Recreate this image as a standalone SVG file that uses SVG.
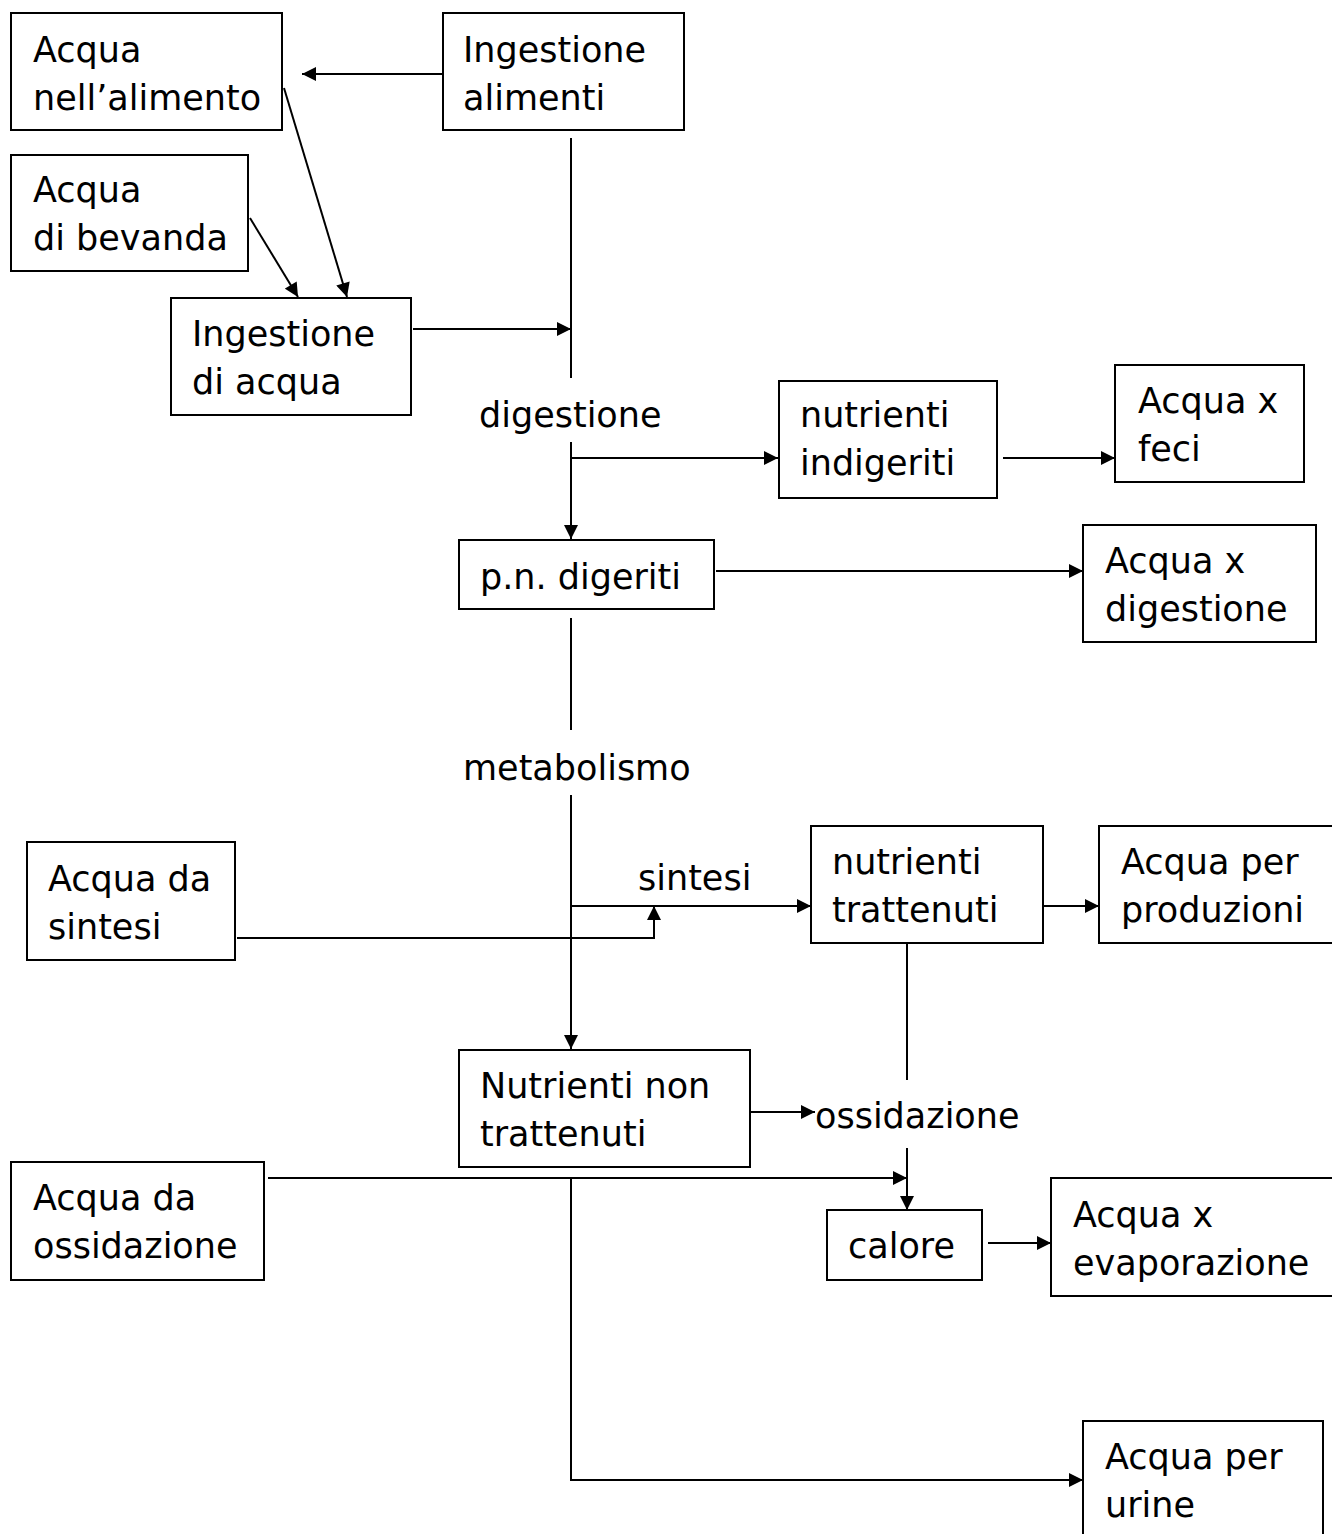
<svg xmlns="http://www.w3.org/2000/svg" width="1332" height="1534" viewBox="0 0 1332 1534">
<style>
.box{fill:#fff;stroke:#000;stroke-width:2}
text{font-family:"DejaVu Sans",sans-serif;font-size:35px;fill:#000}
.c{fill:none;stroke:#000;stroke-width:2}
</style>
<defs>
<marker id="ah" viewBox="0 0 10 10" refX="10" refY="5" markerWidth="16" markerHeight="14" markerUnits="userSpaceOnUse" orient="auto">
<path d="M0,0 L10,5 L0,10 z" fill="#000"/>
</marker>
</defs>
<rect width="1332" height="1534" fill="#fff"/>
<g id="connectors">
<line class="c" x1="443" y1="74" x2="302" y2="74" marker-end="url(#ah)"/>
<line class="c" x1="284" y1="88" x2="347" y2="297" marker-end="url(#ah)"/>
<line class="c" x1="250" y1="218" x2="298" y2="297" marker-end="url(#ah)"/>
<line class="c" x1="571" y1="138" x2="571" y2="378"/>
<line class="c" x1="413" y1="329" x2="571" y2="329" marker-end="url(#ah)"/>
<line class="c" x1="571" y1="442" x2="571" y2="539" marker-end="url(#ah)"/>
<line class="c" x1="571" y1="458" x2="778" y2="458" marker-end="url(#ah)"/>
<line class="c" x1="1003" y1="458" x2="1115" y2="458" marker-end="url(#ah)"/>
<line class="c" x1="716" y1="571" x2="1083" y2="571" marker-end="url(#ah)"/>
<line class="c" x1="571" y1="618" x2="571" y2="730"/>
<line class="c" x1="571" y1="795" x2="571" y2="1049" marker-end="url(#ah)"/>
<line class="c" x1="571" y1="906" x2="811" y2="906" marker-end="url(#ah)"/>
<polyline class="c" points="237,938 654,938 654,906" marker-end="url(#ah)"/>
<line class="c" x1="1036" y1="906" x2="1099" y2="906" marker-end="url(#ah)"/>
<line class="c" x1="907" y1="943" x2="907" y2="1080"/>
<line class="c" x1="750" y1="1112" x2="815" y2="1112" marker-end="url(#ah)"/>
<line class="c" x1="907" y1="1148" x2="907" y2="1210" marker-end="url(#ah)"/>
<line class="c" x1="268" y1="1178" x2="907" y2="1178" marker-end="url(#ah)"/>
<polyline class="c" points="571,1178 571,1480 1083,1480" marker-end="url(#ah)"/>
<line class="c" x1="988" y1="1243" x2="1051" y2="1243" marker-end="url(#ah)"/>
</g>
<g id="acqua-alimento"><rect class="box" x="11" y="13" width="271" height="117"/><text x="33" y="62">Acqua</text><text x="33" y="110">nell’alimento</text></g>
<g id="ingestione-alimenti"><rect class="box" x="443" y="13" width="241" height="117"/><text x="463" y="62">Ingestione</text><text x="463" y="110">alimenti</text></g>
<g id="acqua-bevanda"><rect class="box" x="11" y="155" width="237" height="116"/><text x="33" y="202">Acqua</text><text x="33" y="250">di bevanda</text></g>
<g id="ingestione-acqua"><rect class="box" x="171" y="298" width="240" height="117"/><text x="192" y="346">Ingestione</text><text x="192" y="394">di acqua</text></g>
<g id="lbl-digestione"><text x="479" y="427">digestione</text></g>
<g id="nutrienti-indigeriti"><rect class="box" x="779" y="381" width="218" height="117"/><text x="800" y="427">nutrienti</text><text x="800" y="475">indigeriti</text></g>
<g id="acqua-feci"><rect class="box" x="1115" y="365" width="189" height="117"/><text x="1138" y="413">Acqua x</text><text x="1138" y="461">feci</text></g>
<g id="pn-digeriti"><rect class="box" x="459" y="540" width="255" height="69"/><text x="480" y="589">p.n. digeriti</text></g>
<g id="acqua-digestione"><rect class="box" x="1083" y="525" width="233" height="117"/><text x="1105" y="573">Acqua x</text><text x="1105" y="621">digestione</text></g>
<g id="lbl-metabolismo"><text x="463" y="780">metabolismo</text></g>
<g id="acqua-sintesi"><rect class="box" x="27" y="842" width="208" height="118"/><text x="48" y="891">Acqua da</text><text x="48" y="939">sintesi</text></g>
<g id="lbl-sintesi"><text x="638" y="890">sintesi</text></g>
<g id="nutrienti-trattenuti"><rect class="box" x="811" y="826" width="232" height="117"/><text x="832" y="874">nutrienti</text><text x="832" y="922">trattenuti</text></g>
<g id="acqua-produzioni"><rect class="box" x="1099" y="826" width="240" height="117"/><text x="1121" y="874">Acqua per</text><text x="1121" y="922">produzioni</text></g>
<g id="nutrienti-non-trattenuti"><rect class="box" x="459" y="1050" width="291" height="117"/><text x="480" y="1098">Nutrienti non</text><text x="480" y="1146">trattenuti</text></g>
<g id="lbl-ossidazione"><text x="815" y="1128">ossidazione</text></g>
<g id="acqua-ossidazione"><rect class="box" x="11" y="1162" width="253" height="118"/><text x="33" y="1210">Acqua da</text><text x="33" y="1258">ossidazione</text></g>
<g id="calore"><rect class="box" x="827" y="1210" width="155" height="70"/><text x="848" y="1258">calore</text></g>
<g id="acqua-evaporazione"><rect class="box" x="1051" y="1178" width="290" height="118"/><text x="1073" y="1227">Acqua x</text><text x="1073" y="1275">evaporazione</text></g>
<g id="acqua-urine"><rect class="box" x="1083" y="1421" width="240" height="130"/><text x="1105" y="1469">Acqua per</text><text x="1105" y="1517">urine</text></g>
</svg>
